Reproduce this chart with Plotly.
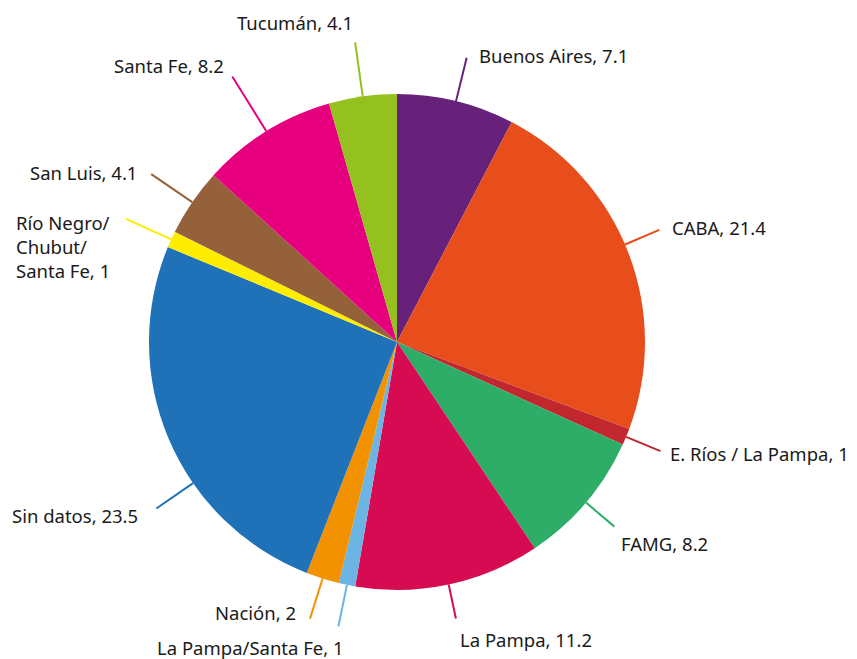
import math
import plotly.graph_objects as go

# Datos (porcentaje de casos por jurisdicción)
labels = ["Buenos Aires", "CABA", "E. Ríos / La Pampa", "FAMG", "La Pampa",
          "La Pampa/Santa Fe", "Nación", "Sin datos", "Río Negro/<br>Chubut/<br>Santa Fe",
          "San Luis", "Santa Fe", "Tucumán"]
values = [7.1, 21.4, 1, 8.2, 11.2, 1, 2, 23.5, 1, 4.1, 8.2, 4.1]
colors = ["#68217A", "#E84E1B", "#C1272D", "#2EAD68", "#D60B52", "#6CB4E4",
          "#F39200", "#1F71B8", "#FFED00", "#94613A", "#E6007E", "#95C11F"]

# largo/giro de la línea guía y ubicación de cada rótulo (sólo estilo)
line_r = [1.18, 1.15, 1.15, 1.15, 1.14, 1.17, 1.17, 1.18, 1.2, 1.2, 1.26, 1.22]
line_rot = [0, -2.2, 0, 0, 0, 0, 0, -11.6, 0, 0, 0, 0]
anchors = [("left", "middle", 10, 2), ("left", "middle", 11, 2), ("left", "middle", 8, -2),
           ("left", "middle", 5, -17), ("left", "middle", 2, -21), ("right", "middle", 8, -21),
           ("right", "middle", -12, 6), ("right", "middle", -16, -7), ("right", "top", -14, 11),
           ("right", "middle", -12, 2), ("right", "middle", -6, 11), ("right", "middle", 0, 20)]

W, H = 857, 659
cx, cy, R = 389, 334, 248
dom_x = [(cx - R) / W, (cx + R) / W]
dom_y = [(H - cy - R) / H, (H - cy + R) / H]

fig = go.Figure()
fig.add_trace(go.Pie(
    labels=labels, values=values, sort=False, direction="clockwise", rotation=0,
    marker=dict(colors=colors, line=dict(width=0)),
    textinfo="none", hoverinfo="label+value", showlegend=False,
    domain=dict(x=dom_x, y=dom_y),
))


def to_paper(th, r):
    a = math.radians(th)
    return (cx + r * R * math.sin(a)) / W, (H - (cy - r * R * math.cos(a))) / H


total = sum(values)
acc = 0
for lab, v, c, r, rot, (xa, ya, xs, ys) in zip(labels, values, colors, line_r, line_rot, anchors):
    th = (acc + v / 2) / total * 360 + rot
    acc += v
    x0, y0 = to_paper(th, 1.0)
    x1, y1 = to_paper(th, r)
    fig.add_shape(type="line", xref="paper", yref="paper", x0=x0, y0=y0, x1=x1, y1=y1,
                  line=dict(color=c, width=2))
    fig.add_annotation(x=x1, y=y1, xref="paper", yref="paper", text=f"{lab}, {v:g}",
                       showarrow=False, xanchor=xa, yanchor=ya, xshift=xs, yshift=ys,
                       align="left")

fig.update_layout(
    width=W, height=H,
    margin=dict(l=0, r=0, t=0, b=0),
    paper_bgcolor="white", plot_bgcolor="white",
    font=dict(family="Noto Sans", size=18.5, color="#1a1a1a"),
)

fig.write_html("out.html")
